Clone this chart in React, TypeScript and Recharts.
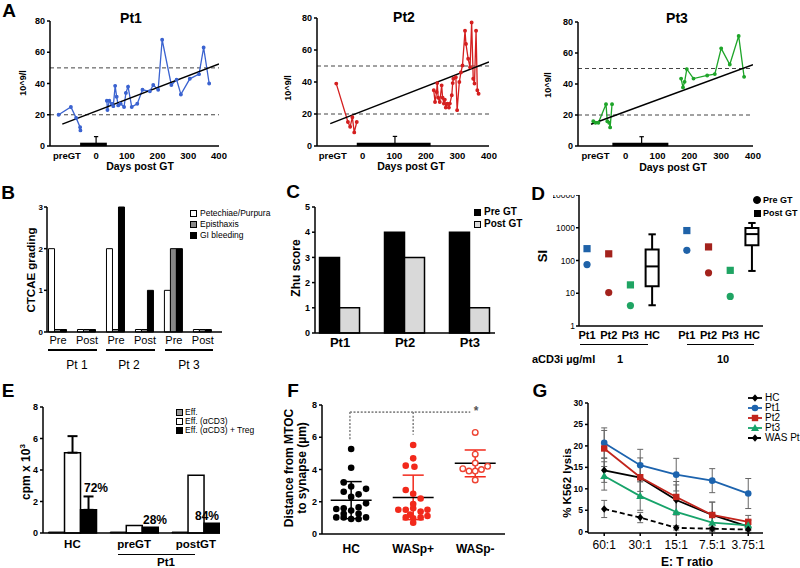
import {
  LineChart, Line, BarChart, Bar, ScatterChart, Scatter, XAxis, YAxis,
  ReferenceLine, ReferenceArea, ErrorBar,
} from 'recharts'

const FONT = '"Liberation Sans", Arial, Helvetica, sans-serif'

// ---- A: platelet counts (10^9/l) vs days post GT, [day, value]
const pt1Pre = [[-122, 20], [-82, 25], [-65, 18], [-52, 12], [-51, 10]]
const pt1Post = [
  [35, 29], [37, 23], [43, 29], [51, 27], [56, 25.5], [62, 38.5], [67, 31.5], [72, 26], [80, 27],
  [91, 25], [97, 34], [104, 38], [116, 25], [134, 27], [151, 36], [175, 35], [186, 39], [202, 36],
  [215, 68], [245, 39], [262, 42.5], [276, 33], [305, 43], [335, 46], [350, 63], [368, 40],
]
const pt2Pre = [[-84, 39], [-47, 15], [-40, 12], [-33, 18], [-27, 8.5], [-19, 15]]
const pt2Post = [
  [225, 34.8], [229, 27.5], [234, 33.7], [236, 39.3], [239, 30.2], [244, 27.5], [250, 37.9], [253, 30.2],
  [257, 26.5], [260, 29], [263, 24], [268, 26.5], [273, 24], [276, 26.5], [282, 31.7], [285, 39.3],
  [287, 42], [295, 43], [299, 22.4], [306, 40], [311, 46], [316, 50.3], [324, 72], [327, 63.8],
  [334, 54.5], [340, 49.2], [345, 77.2], [350, 42], [354, 39], [359, 72], [363, 34.8], [367, 32.7],
]
const pt3Pre = [[-102, 16], [-95, 15], [-86, 15], [-62, 27], [-58, 16], [-52, 15], [-49, 12], [-43, 27]]
const pt3Post = [
  [174, 43.5], [180, 37.8], [185, 41.4], [192, 49.6], [213, 43.5], [256, 45.5], [280, 46.4],
  [300, 63], [327, 52.6], [355, 71], [372, 44.6],
]
const pt1Trend = [[-110, 14], [400, 52.5]]
const pt2Trend = [[-103, 14], [400, 52.5]]
const pt3Trend = [[-109, 14], [400, 52.5]]
const dayTicks = [-95, 0, 100, 200, 300, 400]

// ---- B: CTCAE grading
const bCats = ['Pre', 'Post', 'Pre', 'Post', 'Pre', 'Post']
const petechiae = [2, 0.06, 2, 0.06, 1, 0.06]
const epistaxis = [0.06, 0.06, 0.06, 0.06, 2, 0.06]
const giBleeding = [0.06, 0.06, 3, 1, 2, 0.06]

// ---- C: Zhu score
const zhuCats = ['Pt1', 'Pt2', 'Pt3']
const zhuPre = [3, 4, 4]
const zhuPost = [1, 3, 1]

// ---- D: SI (log)
const dNames = ['Pt1', 'Pt2', 'Pt3', 'HC', 'Pt1', 'Pt2', 'Pt3', 'HC']
const dPos = [1, 2, 3, 4, 5.6, 6.6, 7.6, 8.6]
const dColors = ['#1f62a8', '#a3221c', '#1fa463']
const siPre = [75, 10.5, 4.2, 205, 42, 8]
const siPost = [230, 160, 18, 820, 260, 50]
const hcBox1 = [4.3, 16.5, 66, 215, 630]
const hcBox2 = [48, 290, 640, 990, 1400]

// ---- E: proliferation (cpm x 10^3)
const eGroups = ['HC', 'preGT', 'postGT']
const effOnly = [0.06, 0.06, 0.06]
const effCd3 = [5.1, 0.47, 3.67]
const effCd3Treg = [1.47, 0.36, 0.62]
const effCd3Err = [1.05, null, null]
const effCd3TregErr = [0.85, null, null]
const suppression = ['72%', '28%', '84%']

// ---- F: MTOC distance, [x offset, value]
const fHC = [
  [0, 5.27], [0, 4.11], [-0.12, 3.2], [0, 2.95], [0.24, 2.8], [-0.12, 2.62], [0.12, 2.46], [0, 2.3],
  [0.24, 1.9], [-0.24, 1.55], [-0.12, 1.6], [0.12, 1.65], [0, 1.45], [-0.12, 1.25], [0.12, 1.25],
  [-0.24, 1.03], [-0.12, 1.03], [0, 0.93], [0.12, 0.93], [0.24, 1.03],
]
const fWasPos = [
  [0, 5.52], [0, 4.69], [-0.12, 4.24], [0.02, 4.17], [-0.12, 2.73], [0, 2.5], [0.12, 2.2], [0, 1.86],
  [-0.24, 1.5], [-0.12, 1.5], [0, 1.6], [0.12, 1.4], [0.23, 1.5], [-0.05, 1.2], [-0.12, 1.03],
  [0, 0.97], [0.12, 1.03], [0.23, 1.12], [0, 0.7],
]
const fWasNeg = [[0, 6.3], [0, 4.95], [0, 4.4], [-0.2, 4.05], [-0.1, 3.9], [0, 3.9], [0.1, 4.0], [0.2, 4.2], [0, 3.35]]
const fCats = ['HC', 'WASp+', 'WASp-']
const fMeans = [2.1, 2.27, 4.38]
const fSd = [1.15, 1.38, 0.83]

// ---- G: K562 lysis
const gRatios = ['60:1', '30:1', '15:1', '7.5:1', '3.75:1']
const hcLysis = [14.3, 12.6, 7.4, 3.9, 1.2]
const hcLysisSd = [2.8, 3.2, 3.5, 3.0, 1.5]
const pt1Lysis = [20.7, 15.5, 13.3, 11.9, 8.9]
const pt1LysisSd = [3.5, 3.7, 3.8, 2.8, 3.5]
const pt2Lysis = [19.4, 12.7, 8.1, 3.9, 2.3]
const pt2LysisSd = [4.2, 4.5, 3.6, 3.0, 1.5]
const pt3Lysis = [13.0, 8.3, 4.6, 2.1, 1.5]
const pt3LysisSd = [3.3, 3.3, 3.5, 2.0, 1.2]
const wasLysis = [5.3, 3.3, 0.9, 0.7, 0.5]
const wasLysisSd = [2.0, 1.2, 0.5, 0.4, 0.3]

const axisLine = { stroke: '#000', strokeWidth: 1.5 }
const tickLine = { stroke: '#000', strokeWidth: 1.5 }
const tk = (size: number, weight = 700) => ({ fontSize: size, fontWeight: weight, fill: '#000', fontFamily: FONT })

type Rect = [number, number, number, number]
function frame([l, t, r, b]: Rect, yw: number, xh: number, mt = 5, mr = 5) {
  return {
    style: { position: 'absolute' as const, left: l - yw, top: t - mt },
    width: r - l + yw + mr,
    height: b - t + mt + xh,
    xh,
    margin: { top: mt, right: mr, left: 0, bottom: 0 },
  }
}

function Txt({ x, y, size = 11, weight = 700, rotate = false, align = 'center', color = '#000', children }: any) {
  const tx = align === 'center' ? '-50%' : align === 'left' ? '0' : '-100%'
  return (
    <div style={{
      position: 'absolute', left: x, top: y, fontFamily: FONT, fontSize: size, fontWeight: weight, color,
      whiteSpace: 'nowrap', lineHeight: 1, transform: `translate(${tx}, -50%)${rotate ? ' rotate(-90deg)' : ''}`,
    }}>{children}</div>
  )
}

function HLine({ x1, x2, y, w = 1.5 }: any) {
  return <div style={{ position: 'absolute', left: x1, top: y, width: x2 - x1, height: 0, borderTop: `${w}px solid #000` }} />
}

function Swatch({ x, y, fill, size = 7, round = false }: any) {
  return (
    <div style={{
      position: 'absolute', left: x - size / 2, top: y - size / 2, width: size, height: size, boxSizing: 'border-box',
      background: fill, border: '1px solid #000', borderRadius: round ? '50%' : 0,
    }} />
  )
}

function marker(kind: string, cx: number, cy: number, color: string, key?: any) {
  if (cx == null || cy == null) return <g key={key} />
  if (kind === 'circle') return <circle key={key} cx={cx} cy={cy} r={3.3} fill={color} />
  if (kind === 'square') return <rect key={key} x={cx - 3.2} y={cy - 3.2} width={6.4} height={6.4} fill={color} />
  if (kind === 'triangle') return <path key={key} d={`M${cx},${cy - 4} L${cx + 4},${cy + 3} L${cx - 4},${cy + 3} Z`} fill={color} />
  return <path key={key} d={`M${cx},${cy - 3.8} L${cx + 3.2},${cy} L${cx},${cy + 3.8} L${cx - 3.2},${cy} Z`} fill={color} />
}

const toXY = (arr: number[][]) => arr.map(([x, y]) => ({ x, y }))

function GrowthPanel({ plot, xMin, color, pre, post, trend, tBar, tMark }: any) {
  const f = frame(plot, 30, 18, 5, 14)
  return (
    <div style={f.style}>
      <LineChart width={f.width} height={f.height} margin={f.margin}>
        <XAxis type="number" dataKey="x" domain={[xMin, 400]} ticks={dayTicks} interval={0} height={f.xh}
          tickFormatter={(v: number) => (v === -95 ? 'preGT' : String(v))}
          tickLine={false} tickSize={0} tickMargin={6} axisLine={axisLine} tick={tk(9.5)} allowDataOverflow />
        <YAxis type="number" domain={[0, 80]} ticks={[0, 20, 40, 60, 80]} width={30}
          tickLine={tickLine} tickSize={3} tickMargin={2} axisLine={axisLine} tick={tk(9)} />
        <ReferenceLine y={20} stroke="#444" strokeDasharray="4 3" strokeWidth={1} />
        <ReferenceLine y={50} stroke="#444" strokeDasharray="4 3" strokeWidth={1} />
        <Line data={toXY(pre)} dataKey="y" stroke={color} strokeWidth={1.3} dot={{ r: 1.3, fill: color, stroke: color }} isAnimationActive={false} />
        <Line data={toXY(post)} dataKey="y" stroke={color} strokeWidth={1.3} dot={{ r: 1.3, fill: color, stroke: color }} isAnimationActive={false} />
        <Line data={toXY(trend)} dataKey="y" stroke="#000" strokeWidth={1.5} dot={false} isAnimationActive={false} />
        <ReferenceLine segment={[{ x: tBar[0], y: 1 }, { x: tBar[1], y: 1 }]} stroke="#000" strokeWidth={3.5} />
        <ReferenceLine segment={[{ x: tMark, y: 1 }, { x: tMark, y: 6 }]} stroke="#000" strokeWidth={1.2} />
        <ReferenceLine segment={[{ x: tMark - 7, y: 6 }, { x: tMark + 7, y: 6 }]} stroke="#000" strokeWidth={1.2} />
      </LineChart>
    </div>
  )
}

function PanelB() {
  const f = frame([47, 207, 222, 332], 16, 18, 5, 4)
  const data = bCats.map((c, i) => ({ x: i, pet: petechiae[i], epi: epistaxis[i], gi: giBleeding[i] }))
  return (
    <div style={f.style}>
      <BarChart width={f.width} height={f.height} margin={f.margin} data={data} barGap={0}>
        <XAxis type="number" dataKey="x" domain={[-0.38, 5.66]} ticks={[0, 1, 2, 3, 4, 5]} interval={0} height={f.xh}
          tickFormatter={(v: number) => bCats[v]} tickLine={false} tickSize={0} tickMargin={4}
          axisLine={axisLine} tick={tk(11, 400)} allowDataOverflow />
        <YAxis type="number" domain={[0, 3]} ticks={[0, 1, 2, 3]} width={16}
          tickLine={tickLine} tickSize={3} tickMargin={1} axisLine={axisLine} tick={tk(8)} />
        <Bar dataKey="pet" barSize={6} fill="#fff" stroke="#000" strokeWidth={1} isAnimationActive={false} />
        <Bar dataKey="epi" barSize={6} fill="#888" stroke="#000" strokeWidth={1} isAnimationActive={false} />
        <Bar dataKey="gi" barSize={6} fill="#000" stroke="#000" strokeWidth={1} isAnimationActive={false} />
      </BarChart>
    </div>
  )
}

function PanelC() {
  const f = frame([315, 207, 495, 333], 20, 22, 5, 4)
  const data = zhuCats.map((c, i) => ({ x: i + 1, pre: zhuPre[i], post: zhuPost[i] }))
  return (
    <div style={f.style}>
      <BarChart width={f.width} height={f.height} margin={f.margin} data={data} barGap={0}>
        <XAxis type="number" dataKey="x" domain={[0.615, 3.385]} ticks={[1, 2, 3]} interval={0} height={f.xh}
          tickFormatter={(v: number) => zhuCats[v - 1]} tickLine={false} tickSize={0} tickMargin={5}
          axisLine={axisLine} tick={tk(13)} allowDataOverflow />
        <YAxis type="number" domain={[0, 5]} ticks={[0, 1, 2, 3, 4, 5]} width={20}
          tickLine={tickLine} tickSize={3} tickMargin={2} axisLine={axisLine} tick={tk(9)} />
        <Bar dataKey="pre" barSize={20} fill="#000" stroke="#000" strokeWidth={1.5} isAnimationActive={false} />
        <Bar dataKey="post" barSize={20} fill="#d9d9d9" stroke="#000" strokeWidth={1.5} isAnimationActive={false} />
      </BarChart>
    </div>
  )
}

function BoxPlot({ x, v }: any) {
  const [lo, q1, med, q3, hi] = v
  return [
    <ReferenceLine key={`w1${x}`} segment={[{ x, y: lo }, { x, y: q1 }]} stroke="#000" strokeWidth={2} />,
    <ReferenceLine key={`w2${x}`} segment={[{ x, y: q3 }, { x, y: hi }]} stroke="#000" strokeWidth={2} />,
    <ReferenceLine key={`c1${x}`} segment={[{ x: x - 0.17, y: lo }, { x: x + 0.17, y: lo }]} stroke="#000" strokeWidth={2} />,
    <ReferenceLine key={`c2${x}`} segment={[{ x: x - 0.17, y: hi }, { x: x + 0.17, y: hi }]} stroke="#000" strokeWidth={2} />,
    <ReferenceArea key={`b${x}`} x1={x - 0.3} x2={x + 0.3} y1={q1} y2={q3} fill="#fff" fillOpacity={1} stroke="#000" strokeWidth={2} />,
    <ReferenceLine key={`m${x}`} segment={[{ x: x - 0.3, y: med }, { x: x + 0.3, y: med }]} stroke="#000" strokeWidth={2} />,
  ]
}

function PanelD() {
  const f = frame([579, 195, 763, 326], 26, 20, 8, 4)
  const ptIdx = [0, 1, 2, 4, 5, 6]
  const pre = siPre.map((y, i) => ({ x: dPos[ptIdx[i]], y, color: dColors[i % 3] }))
  const post = siPost.map((y, i) => ({ x: dPos[ptIdx[i]], y, color: dColors[i % 3] }))
  return (
    <div style={{ ...f.style, clipPath: 'inset(8px 0 0 0)' }}>
      <ScatterChart width={f.width} height={f.height} margin={f.margin}>
        <XAxis type="number" dataKey="x" domain={[0.63, 9.11]} ticks={dPos} interval={0} height={f.xh}
          tickFormatter={(v: number) => dNames[dPos.indexOf(v)]} tickLine={false} tickSize={0} tickMargin={5}
          axisLine={axisLine} tick={tk(11)} allowDataOverflow />
        <YAxis type="number" dataKey="y" scale="log" domain={[1, 10000]} ticks={[1, 10, 100, 1000, 10000]}
          allowDataOverflow width={26} tickLine={tickLine} tickSize={3} tickMargin={1} axisLine={axisLine} tick={tk(8.5, 400)} />
        {BoxPlot({ x: 4, v: hcBox1 })}
        {BoxPlot({ x: 8.6, v: hcBox2 })}
        <Scatter data={pre} isAnimationActive={false}
          shape={(p: any) => <circle cx={p.cx} cy={p.cy} r={3.6} fill={p.payload.color} />} />
        <Scatter data={post} isAnimationActive={false}
          shape={(p: any) => <rect x={p.cx - 3.6} y={p.cy - 3.6} width={7.2} height={7.2} fill={p.payload.color} />} />
      </ScatterChart>
    </div>
  )
}

function PanelE() {
  const f = frame([43, 407, 220, 533], 18, 22, 5, 4)
  const data = eGroups.map((g, i) => ({
    x: i, eff: effOnly[i], cd3: effCd3[i], treg: effCd3Treg[i],
    cd3Err: effCd3Err[i] == null ? undefined : [0, effCd3Err[i]],
    tregErr: effCd3TregErr[i] == null ? undefined : [0, effCd3TregErr[i]],
  }))
  return (
    <div style={f.style}>
      <BarChart width={f.width} height={f.height} margin={f.margin} data={data} barGap={0}>
        <XAxis type="number" dataKey="x" domain={[-0.476, 2.39]} ticks={[0, 1, 2]} interval={0} height={f.xh}
          tickFormatter={(v: number) => eGroups[v]} tickLine={false} tickSize={0} tickMargin={7}
          axisLine={axisLine} tick={tk(11.5)} allowDataOverflow />
        <YAxis type="number" domain={[0, 8]} ticks={[0, 2, 4, 6, 8]} width={18}
          tickLine={tickLine} tickSize={3} tickMargin={2} axisLine={axisLine} tick={tk(9)} />
        <Bar dataKey="eff" barSize={16} fill="#999" stroke="#000" strokeWidth={1} isAnimationActive={false} />
        <Bar dataKey="cd3" barSize={16} fill="#fff" stroke="#000" strokeWidth={1.5} isAnimationActive={false}>
          <ErrorBar dataKey="cd3Err" width={5} stroke="#000" strokeWidth={2} direction="y" />
        </Bar>
        <Bar dataKey="treg" barSize={16} fill="#000" stroke="#000" strokeWidth={1.5} isAnimationActive={false}>
          <ErrorBar dataKey="tregErr" width={5} stroke="#000" strokeWidth={2} direction="y" />
        </Bar>
      </BarChart>
    </div>
  )
}

function PanelF() {
  const f = frame([322, 405, 505, 534], 18, 24, 5, 4)
  const groups = [fHC, fWasPos, fWasNeg]
  const red = '#f2291b'
  const stats: any[] = []
  fMeans.forEach((m, i) => {
    const x = i + 1
    const c = i === 0 ? '#000' : red
    const lo = m - fSd[i]
    const hi = m + fSd[i]
    stats.push(<ReferenceLine key={`v${i}`} segment={[{ x, y: lo }, { x, y: hi }]} stroke={c} strokeWidth={1.5} />)
    stats.push(<ReferenceLine key={`l${i}`} segment={[{ x: x - 0.17, y: lo }, { x: x + 0.17, y: lo }]} stroke={c} strokeWidth={1.5} />)
    stats.push(<ReferenceLine key={`h${i}`} segment={[{ x: x - 0.17, y: hi }, { x: x + 0.17, y: hi }]} stroke={c} strokeWidth={1.5} />)
  })
  const means = fMeans.map((m, i) => (
    <ReferenceLine key={`m${i}`} segment={[{ x: i + 0.67, y: m }, { x: i + 1.33, y: m }]} stroke="#000" strokeWidth={1.5} />
  ))
  const dotted = { stroke: '#888', strokeWidth: 1.6, strokeDasharray: '2 1.6' }
  return (
    <div style={f.style}>
      <ScatterChart width={f.width} height={f.height} margin={f.margin}>
        <XAxis type="number" dataKey="x" domain={[0.53, 3.48]} ticks={[1, 2, 3]} interval={0} height={f.xh}
          tickFormatter={(v: number) => fCats[v - 1]} tickLine={false} tickSize={0} tickMargin={10}
          axisLine={axisLine} tick={tk(12)} allowDataOverflow />
        <YAxis type="number" dataKey="y" domain={[0, 8]} ticks={[0, 2, 4, 6, 8]} width={18}
          tickLine={tickLine} tickSize={3} tickMargin={2} axisLine={axisLine} tick={tk(9)} />
        <ReferenceLine segment={[{ x: 0.98, y: 7.56 }, { x: 2.92, y: 7.56 }]} {...dotted} />
        <ReferenceLine segment={[{ x: 0.98, y: 7.56 }, { x: 0.98, y: 5.84 }]} {...dotted} />
        <ReferenceLine segment={[{ x: 2, y: 7.56 }, { x: 2, y: 6.15 }]} {...dotted} />
        <Scatter data={groups[0].map(([d, y]) => ({ x: 1 + d, y }))} isAnimationActive={false}
          shape={(p: any) => <circle cx={p.cx} cy={p.cy} r={3.3} fill="#000" />} />
        <Scatter data={groups[1].map(([d, y]) => ({ x: 2 + d, y }))} isAnimationActive={false}
          shape={(p: any) => <circle cx={p.cx} cy={p.cy} r={3.3} fill={red} />} />
        <Scatter data={groups[2].map(([d, y]) => ({ x: 3 + d, y }))} isAnimationActive={false}
          shape={(p: any) => <circle cx={p.cx} cy={p.cy} r={2.8} fill="#fff" stroke="#ee4433" strokeWidth={1.4} />} />
        {stats}
        {means}
      </ScatterChart>
    </div>
  )
}

const gSeries = [
  { key: 'hc', name: 'HC', vals: hcLysis, sd: hcLysisSd, color: '#000', mk: 'diamond', dash: undefined },
  { key: 'pt1', name: 'Pt1', vals: pt1Lysis, sd: pt1LysisSd, color: '#1c63ae', mk: 'circle', dash: undefined },
  { key: 'pt2', name: 'Pt2', vals: pt2Lysis, sd: pt2LysisSd, color: '#c2241c', mk: 'square', dash: undefined },
  { key: 'pt3', name: 'Pt3', vals: pt3Lysis, sd: pt3LysisSd, color: '#17a36a', mk: 'triangle', dash: undefined },
  { key: 'was', name: 'WAS Pt', vals: wasLysis, sd: wasLysisSd, color: '#000', mk: 'diamond', dash: '5 3' },
]

function PanelG() {
  const f = frame([588, 403, 763, 533], 20, 22, 5, 4)
  const data = gRatios.map((r, i) => {
    const row: any = { x: i }
    gSeries.forEach((s) => { row[s.key] = s.vals[i]; row[`${s.key}Sd`] = s.sd[i] })
    return row
  })
  return (
    <div style={f.style}>
      <LineChart width={f.width} height={f.height} margin={f.margin} data={data}>
        <XAxis type="number" dataKey="x" domain={[-0.45, 4.41]} ticks={[0, 1, 2, 3, 4]} interval={0} height={f.xh}
          tickFormatter={(v: number) => gRatios[v]} tickLine={tickLine} tickSize={3} tickMargin={4}
          axisLine={axisLine} tick={tk(12, 400)} allowDataOverflow />
        <YAxis type="number" domain={[0, 30]} ticks={[0, 5, 10, 15, 20, 25, 30]} width={20}
          tickLine={tickLine} tickSize={3} tickMargin={2} axisLine={axisLine} tick={tk(8.5)} />
        {gSeries.map((s) => (
          <Line key={s.key} dataKey={s.key} stroke={s.color} strokeWidth={1.8} strokeDasharray={s.dash}
            isAnimationActive={false}
            dot={(p: any) => marker(s.mk, p.cx, p.cy, s.color, `${s.key}-${p.index}`)}>
            <ErrorBar dataKey={`${s.key}Sd`} width={3} stroke="#666" strokeWidth={1} direction="y" />
          </Line>
        ))}
      </LineChart>
    </div>
  )
}

function GLegend() {
  return (
    <>
      {gSeries.map((s, i) => {
        const y = 398 + i * 10
        return (
          <div key={s.key}>
            <svg style={{ position: 'absolute', left: 747, top: y - 5 }} width={16} height={10}>
              <line x1={1} y1={5} x2={15} y2={5} stroke={s.color} strokeWidth={1.8} strokeDasharray={s.dash} />
              {marker(s.mk, 8, 5, s.color)}
            </svg>
            <Txt x={765} y={y} size={10} weight={400} align="left">{s.name}</Txt>
          </div>
        )
      })}
    </>
  )
}

export default function App() {
  return (
    <div style={{ position: 'absolute', left: 0, top: 0, width: 800, height: 568, overflow: 'hidden', background: '#fff', fontFamily: FONT }}>
      {/* A */}
      <Txt x={9} y={10} size={19}>A</Txt>
      <GrowthPanel plot={[50, 21, 219, 146]} xMin={-150} color="#3b63d0" pre={pt1Pre} post={pt1Post} trend={pt1Trend} tBar={[-52, 35]} tMark={0} />
      <Txt x={131} y={18} size={14}>Pt1</Txt>
      <Txt x={23} y={83} size={9} rotate>10^9/l</Txt>
      <Txt x={140} y={166} size={10.5}>Days post GT</Txt>

      <GrowthPanel plot={[317, 18, 489, 146]} xMin={-145} color="#d41f1f" pre={pt2Pre} post={pt2Post} trend={pt2Trend} tBar={[-19, 215]} tMark={102} />
      <Txt x={404} y={17} size={14}>Pt2</Txt>
      <Txt x={288} y={88} size={9} rotate>10^9/l</Txt>
      <Txt x={411} y={166} size={10.5}>Days post GT</Txt>

      <GrowthPanel plot={[578, 22, 753, 146]} xMin={-150} color="#1fa52a" pre={pt3Pre} post={pt3Post} trend={pt3Trend} tBar={[-42, 134]} tMark={50} />
      <Txt x={677} y={18} size={14}>Pt3</Txt>
      <Txt x={548} y={85} size={9} rotate>10^9/l</Txt>
      <Txt x={673} y={167} size={10.5}>Days post GT</Txt>

      {/* B */}
      <Txt x={8} y={192} size={19}>B</Txt>
      <PanelB />
      <Txt x={32} y={270} size={11.5} rotate>CTCAE grading</Txt>
      <HLine x1={48} x2={97} y={349} w={2} />
      <HLine x1={106} x2={155} y={349} w={2} />
      <HLine x1={165} x2={213} y={349} w={2} />
      <Txt x={77} y={365} size={12} weight={400}>Pt 1</Txt>
      <Txt x={129} y={365} size={12} weight={400}>Pt 2</Txt>
      <Txt x={189} y={365} size={12} weight={400}>Pt 3</Txt>
      <Swatch x={193} y={213} fill="#fff" />
      <Swatch x={193} y={224} fill="#888" />
      <Swatch x={193} y={235} fill="#000" />
      <Txt x={200} y={213} size={8.5} weight={400} align="left">Petechiae/Purpura</Txt>
      <Txt x={200} y={224} size={8.5} weight={400} align="left">Episthaxis</Txt>
      <Txt x={200} y={235} size={8.5} weight={400} align="left">GI bleeding</Txt>

      {/* C */}
      <Txt x={293} y={191} size={19}>C</Txt>
      <PanelC />
      <Txt x={296} y={268} size={12} rotate>Zhu score</Txt>
      <Swatch x={477} y={212} fill="#000" />
      <Swatch x={477} y={224} fill="#d9d9d9" />
      <Txt x={484} y={212} size={10} align="left">Pre GT</Txt>
      <Txt x={484} y={224} size={10} align="left">Post GT</Txt>

      {/* D */}
      <Txt x={538} y={193} size={19}>D</Txt>
      <PanelD />
      <Txt x={542} y={256} size={13} rotate>SI</Txt>
      <HLine x1={580} x2={648} y={344} w={1.5} />
      <HLine x1={687} x2={754} y={344} w={1.5} />
      <Txt x={532} y={359} size={11} align="left">aCD3i µg/ml</Txt>
      <Txt x={620} y={359} size={11}>1</Txt>
      <Txt x={723} y={359} size={11}>10</Txt>
      <Swatch x={757} y={200} fill="#000" size={8} round />
      <Swatch x={757} y={213} fill="#000" size={7} />
      <Txt x={763} y={200} size={9} align="left">Pre GT</Txt>
      <Txt x={763} y={213} size={9} align="left">Post GT</Txt>

      {/* E */}
      <Txt x={8} y={390} size={19}>E</Txt>
      <PanelE />
      <Txt x={25} y={472} size={12} rotate>cpm x 10<sup style={{ fontSize: 8 }}>3</sup></Txt>
      <Txt x={96} y={488} size={12}>{suppression[0]}</Txt>
      <Txt x={155} y={520} size={12}>{suppression[1]}</Txt>
      <Txt x={207} y={516} size={12}>{suppression[2]}</Txt>
      <HLine x1={118} x2={195} y={554} w={1.2} />
      <Txt x={166} y={563} size={11.5}>Pt1</Txt>
      <Swatch x={179} y={412} fill="#999" />
      <Swatch x={179} y={421} fill="#fff" />
      <Swatch x={179} y={430} fill="#000" />
      <Txt x={185} y={412} size={8.5} weight={400} align="left">Eff.</Txt>
      <Txt x={185} y={421} size={8.5} weight={400} align="left">Eff. (αCD3)</Txt>
      <Txt x={185} y={430} size={8.5} weight={400} align="left">Eff. (αCD3) + Treg</Txt>

      {/* F */}
      <Txt x={293} y={390} size={19}>F</Txt>
      <PanelF />
      <Txt x={289} y={468} size={12} rotate>Distance from MTOC</Txt>
      <Txt x={302} y={468} size={12} rotate>to synapse (µm)</Txt>
      <Txt x={476} y={411} size={12} color="#555">*</Txt>

      {/* G */}
      <Txt x={540} y={390} size={19}>G</Txt>
      <PanelG />
      <Txt x={568} y={483} size={11.5} rotate>% K562 lysis</Txt>
      <Txt x={687} y={562} size={12}>E: T ratio</Txt>
      <GLegend />
    </div>
  )
}
